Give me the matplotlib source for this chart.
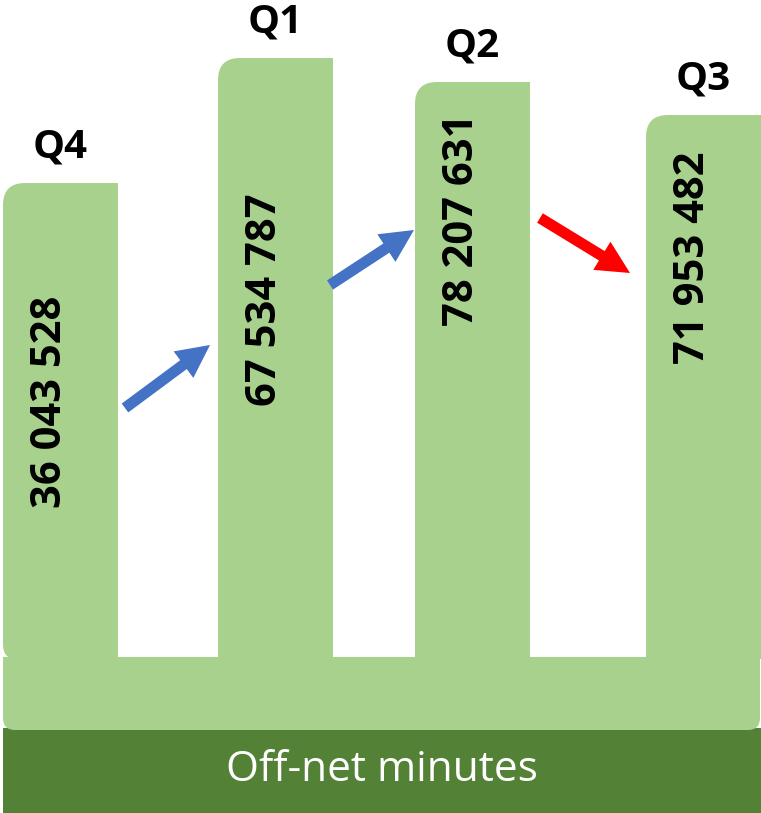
import matplotlib
matplotlib.use("Agg")
import matplotlib.pyplot as plt
from matplotlib.path import Path
from matplotlib.patches import PathPatch, FancyArrow

quarters = ["Q4", "Q1", "Q2", "Q3"]
minutes = [36043528, 67534787, 78207631, 71953482]
# drawn heights of the columns above the base strip (the picture is not to scale)
bar_heights = [474, 599, 575, 542]
trend_colors = ["#4472C4", "#4472C4", "#FF0000"]
footer_text = "Off-net minutes"

LIGHT = "#A9D18E"
DARK = "#538135"
FONT = ["Open Sans", "DejaVu Sans"]

W, H = 761, 813
bar_left = [3, 218, 415, 646]
bar_w = 115
base_y = 156      # top of the base strip
footer_y = 83     # top of the dark footer
label_drop = [219, 242, 138, 143]   # where the rotated value sits below each column top


def rounded_rect(x0, y0, w, h, tl=0, tr=0, bl=0, br=0):
    x1, y1 = x0 + w, y0 + h
    verts, codes = [(x0 + bl, y0)], [Path.MOVETO]
    verts += [(x1 - br, y0)]; codes += [Path.LINETO]
    if br:
        verts += [(x1, y0), (x1, y0 + br)]; codes += [Path.CURVE3] * 2
    verts += [(x1, y1 - tr)]; codes += [Path.LINETO]
    if tr:
        verts += [(x1, y1), (x1 - tr, y1)]; codes += [Path.CURVE3] * 2
    verts += [(x0 + tl, y1)]; codes += [Path.LINETO]
    if tl:
        verts += [(x0, y1), (x0, y1 - tl)]; codes += [Path.CURVE3] * 2
    verts += [(x0, y0 + bl)]; codes += [Path.LINETO]
    if bl:
        verts += [(x0, y0), (x0 + bl, y0)]; codes += [Path.CURVE3] * 2
    verts += [verts[0]]; codes += [Path.CLOSEPOLY]
    return Path(verts, codes)


fig = plt.figure(figsize=(W / 100, H / 100), dpi=100)
ax = fig.add_axes([0, 0, 1, 1])
ax.set_xlim(0, W)
ax.set_ylim(0, H)
ax.axis("off")

# footer and base strip
ax.add_patch(PathPatch(rounded_rect(3, 0, W - 3, footer_y + 2), fc=DARK, ec="none"))
ax.add_patch(PathPatch(rounded_rect(3, footer_y, W - 4, base_y - footer_y, bl=12, br=12),
                       fc=LIGHT, ec="none"))
ax.text(W / 2 + 1, footer_y / 2 + 2, footer_text, color="white", fontsize=30.5,
        family=FONT, ha="center", va="center")

for i, (q, v, h) in enumerate(zip(quarters, minutes, bar_heights)):
    x0 = bar_left[i]
    bl = 14 if i == 0 else 0
    ax.add_patch(PathPatch(rounded_rect(x0, base_y - 2, bar_w, h + 2, tl=22, bl=bl),
                           fc=LIGHT, ec="none"))
    cx = x0 + bar_w / 2
    top = base_y + h
    ax.text(cx, top + 36, q, fontsize=29, fontweight="bold", family=FONT,
            ha="center", va="center")
    label = f"{v:,}".replace(",", " ")
    ax.text(cx - 10, top - label_drop[i], label, rotation=90, fontsize=30,
            fontweight="bold", family=FONT, ha="center", va="center")

# trend arrows between consecutive columns
arrows = [((125, 405), (210, 468)), ((330, 528), (414, 583)), ((540, 595), (630, 540))]
for (p0, p1), c in zip(arrows, trend_colors):
    ax.add_patch(FancyArrow(p0[0], p0[1], p1[0] - p0[0], p1[1] - p0[1], width=11,
                            head_width=33, head_length=33, length_includes_head=True,
                            fc=c, ec="none"))

fig.savefig("out.png", dpi=100)
